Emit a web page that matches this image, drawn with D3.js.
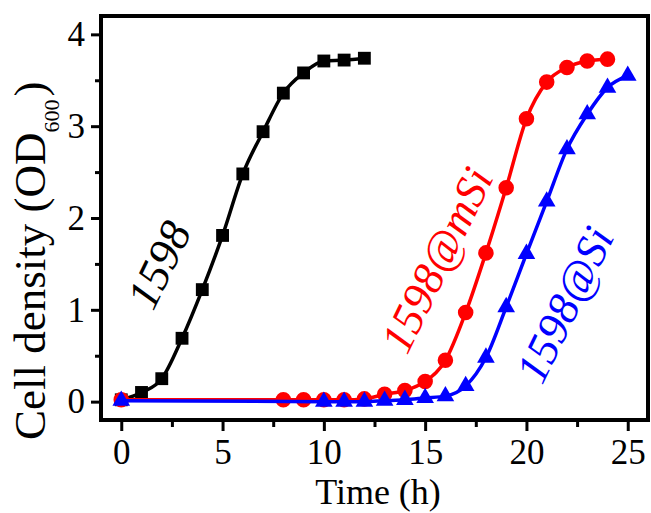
<!DOCTYPE html>
<html>
<head>
<meta charset="utf-8">
<script src="https://cdn.jsdelivr.net/npm/d3@7"></script>
<style>
  body { margin: 0; background: white; }
  text { font-family: "Liberation Serif", "Times New Roman", serif; }
</style>
</head>
<body>
<div id="container"></div>
<script>
/* CONSTANTS AND GLOBALS */
const width = 651;
const height = 513;

const margin = {
  left: 101,
  right: 3,
  top: 16,
  bottom: 93
}

/* DATA */
const timeBlack = [0, 1, 2, 3, 4, 5, 6, 7, 8, 9, 10, 11, 12];
const od1598 = [0.02, 0.10, 0.25, 0.69, 1.22, 1.81, 2.48, 2.94, 3.36, 3.58, 3.71, 3.72, 3.74];

const timeRed = [0, 8, 9, 10, 11, 12, 13, 14, 15, 16, 17, 18, 19, 20, 21, 22, 23, 24];
const odMSi = [0.02, 0.02, 0.02, 0.02, 0.02, 0.03, 0.08, 0.12, 0.22, 0.45, 0.97, 1.62, 2.33, 3.08, 3.48, 3.64, 3.71, 3.73];

const timeBlue = [0, 10, 11, 12, 13, 14, 15, 16, 17, 18, 19, 20, 21, 22, 23, 24, 25];
const odSi = [0.01, 0.0, 0.0, 0.0, 0.01, 0.02, 0.04, 0.06, 0.17, 0.48, 1.03, 1.61, 2.18, 2.75, 3.13, 3.42, 3.55];

const xMajor = [0, 5, 10, 15, 20, 25];
const xMinor = [2.5, 7.5, 12.5, 17.5, 22.5];
const yMajor = [0, 1, 2, 3, 4];
const yMinor = [0.5, 1.5, 2.5, 3.5];

const series = [
  { name: "1598", t: timeBlack, v: od1598, color: "black", shape: d3.symbolSquare },
  { name: "1598@mSi", t: timeRed, v: odMSi, color: "#ff0000", shape: d3.symbolCircle },
  { name: "1598@Si", t: timeBlue, v: odSi, color: "#0000ff", shape: d3.symbolTriangle }
]

// + SCALES
const xScale = d3.scaleLinear()
  .domain([-1, 26])
  .range([margin.left, width - margin.right])

const yScale = d3.scaleLinear()
  .domain([-0.2, 4.2])
  .range([height - margin.bottom, margin.top])

// CREATE SVG ELEMENT
const svg = d3.select("#container")
  .append("svg")
  .attr("width", width)
  .attr("height", height)

// BUILD AND CALL AXES
svg.append("g")
  .attr("transform", `translate(0, ${height - margin.bottom})`)
  .call(d3.axisBottom(xScale).tickValues(xMajor).tickSize(11).tickPadding(8).tickFormat(d3.format("d")))

svg.append("g")
  .attr("transform", `translate(0, ${height - margin.bottom})`)
  .call(d3.axisBottom(xScale).tickValues(xMinor).tickSize(7).tickFormat(""))

svg.append("g")
  .attr("transform", `translate(${margin.left}, 0)`)
  .call(d3.axisLeft(yScale).tickValues(yMajor).tickSize(10).tickPadding(6).tickFormat(d3.format("d")))

svg.append("g")
  .attr("transform", `translate(${margin.left}, 0)`)
  .call(d3.axisLeft(yScale).tickValues(yMinor).tickSize(6).tickFormat(""))

svg.selectAll(".domain").remove()
svg.selectAll(".tick line").attr("stroke", "black").attr("stroke-width", 3)
svg.selectAll(".tick text")
  .attr("fill", "black")
  .style("font-size", "35px")

// FRAME
svg.append("rect")
  .attr("x", xScale(-1))
  .attr("y", yScale(4.2))
  .attr("width", xScale(26) - xScale(-1))
  .attr("height", yScale(-0.2) - yScale(4.2))
  .attr("fill", "none")
  .attr("stroke", "black")
  .attr("stroke-width", 4)

// AXIS LABELS
svg.append("text")
  .attr("x", 378)
  .attr("y", 504)
  .attr("text-anchor", "middle")
  .style("font-size", "36px")
  .text("Time (h)")

const yLabel = svg.append("text")
  .attr("transform", `translate(45, 440) rotate(-90)`)
  .style("font-size", "45px")

yLabel.append("tspan").text("Cell density (OD")
yLabel.append("tspan").attr("dy", 14).style("font-size", "22px").text("600")
yLabel.append("tspan").attr("dy", -14).attr("dx", 3).text(")")

// LINE GENERATOR FUNCTION
const lineGen = d3.line()
  .x(d => xScale(d[0]))
  .y(d => yScale(d[1]))
  .curve(d3.curveMonotoneX)

// DRAW LINES AND MARKERS
for (let i = 0; i < series.length; i++) {
  const s = series[i];
  const pts = s.t.map((t, j) => [t, s.v[j]]);

  svg.append("path")
    .datum(pts)
    .attr("fill", "none")
    .attr("stroke", s.color)
    .attr("stroke-width", 3.5)
    .attr("d", lineGen)

  const symbolSize = s.shape === d3.symbolCircle ? 190 : (s.shape === d3.symbolSquare ? 165 : 135);

  svg.selectAll(`.marker${i}`)
    .data(pts)
    .join("path")
    .attr("class", `marker${i}`)
    .attr("transform", d => `translate(${xScale(d[0])}, ${yScale(d[1])})`)
    .attr("d", d3.symbol().type(s.shape).size(symbolSize))
    .attr("fill", s.color)
}

// CURVE LABELS
const labels = [
  { text: "1598", x: 153, y: 312, color: "black" },
  { text: "1598@mSi", x: 407, y: 356, color: "#ff0000" },
  { text: "1598@Si", x: 542, y: 386, color: "#0000ff" }
]

svg.selectAll(".curveLabel")
  .data(labels)
  .join("text")
  .attr("class", "curveLabel")
  .attr("transform", d => `translate(${d.x}, ${d.y}) rotate(-64)`)
  .attr("fill", d => d.color)
  .style("font-size", "45px")
  .style("font-style", "italic")
  .text(d => d.text)
</script>
</body>
</html>
